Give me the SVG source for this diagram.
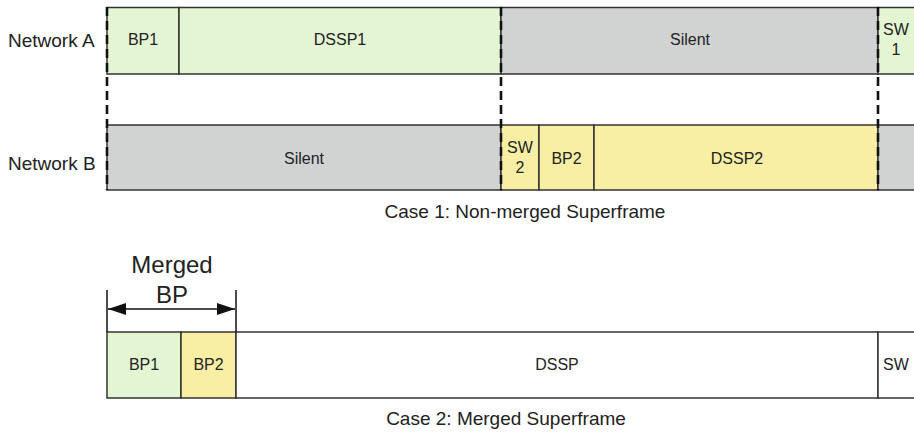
<svg xmlns="http://www.w3.org/2000/svg" width="914" height="432" viewBox="0 0 914 432">
<style>
text{font-family:"Liberation Sans",Arial,sans-serif;fill:#222;}
.lbl{font-size:16px;text-anchor:middle;}
.side{font-size:19px;}
.cap{font-size:19px;text-anchor:middle;}
.big{font-size:24px;text-anchor:middle;}
.box{stroke:#333;stroke-width:1.5;}
.g{fill:#e4f5d3;}
.s{fill:#d1d2d2;}
.y{fill:#f8efa5;}
.w{fill:#ffffff;}
.dash{stroke:#111;stroke-width:2.6;stroke-dasharray:9 5;fill:none;}
.dim{stroke:#111;stroke-width:1.5;fill:none;}
</style>
<defs>
<marker id="ah" viewBox="0 0 18 12" refX="18" refY="6" markerWidth="18" markerHeight="12" markerUnits="userSpaceOnUse" orient="auto-start-reverse">
<path d="M0,0 L18,6 L0,12 Z" fill="#111"/>
</marker>
</defs>
<rect width="914" height="432" fill="#fff"/>

<text class="side" x="8" y="47">Network A</text>
<text class="side" x="8" y="170">Network B</text>

<g id="a-bp1"><rect class="box g" x="107" y="7.5" width="72" height="66.5"/><text class="lbl" x="143" y="45">BP1</text></g>
<g id="a-dssp1"><rect class="box g" x="179" y="7.5" width="322" height="66.5"/><text class="lbl" x="340" y="45">DSSP1</text></g>
<g id="a-silent"><rect class="box s" x="501" y="7.5" width="377" height="66.5"/><text class="lbl" x="690" y="45">Silent</text></g>
<g id="a-sw1"><rect class="box g" x="878" y="7.5" width="60" height="66.5"/><text class="lbl" x="896" y="35">SW</text><text class="lbl" x="896" y="55">1</text></g>

<g id="b-silent"><rect class="box s" x="107" y="125" width="394" height="65"/><text class="lbl" x="304" y="164">Silent</text></g>
<g id="b-sw2"><rect class="box y" x="501" y="125" width="38" height="65"/><text class="lbl" x="520" y="153">SW</text><text class="lbl" x="520" y="173">2</text></g>
<g id="b-bp2"><rect class="box y" x="539" y="125" width="55" height="65"/><text class="lbl" x="566.5" y="164">BP2</text></g>
<g id="b-dssp2"><rect class="box y" x="594" y="125" width="284" height="65"/><text class="lbl" x="737" y="164">DSSP2</text></g>
<g id="b-silent2"><rect class="box s" x="878" y="125" width="60" height="65"/></g>

<text class="cap" x="525" y="218">Case 1: Non-merged Superframe</text>

<g id="m-bp1"><rect class="box g" x="107" y="332" width="74" height="66"/><text class="lbl" x="144" y="370">BP1</text></g>
<g id="m-bp2"><rect class="box y" x="181" y="332" width="55" height="66"/><text class="lbl" x="208.5" y="370">BP2</text></g>
<g id="m-dssp"><rect class="box w" x="236" y="332" width="642" height="66"/><text class="lbl" x="557" y="370">DSSP</text></g>
<g id="m-sw"><rect class="box w" x="878" y="332" width="60" height="66"/><text class="lbl" x="896" y="370">SW</text></g>

<text class="cap" x="506" y="425">Case 2: Merged Superframe</text>

<g id="merged-bp-label">
<text class="big" x="172" y="273">Merged</text>
<text class="big" x="172" y="303">BP</text>
</g>

<g id="connectors">
<line class="dash" x1="107" y1="7" x2="107" y2="190"/>
<line class="dash" x1="501" y1="7" x2="501" y2="190"/>
<line class="dash" x1="878" y1="7" x2="878" y2="190"/>
<line class="dim" x1="107" y1="290" x2="107" y2="332"/>
<line class="dim" x1="236" y1="290" x2="236" y2="332"/>
<line class="dim" x1="108" y1="309" x2="235" y2="309" stroke-width="2" marker-start="url(#ah)" marker-end="url(#ah)"/>
</g>
</svg>
